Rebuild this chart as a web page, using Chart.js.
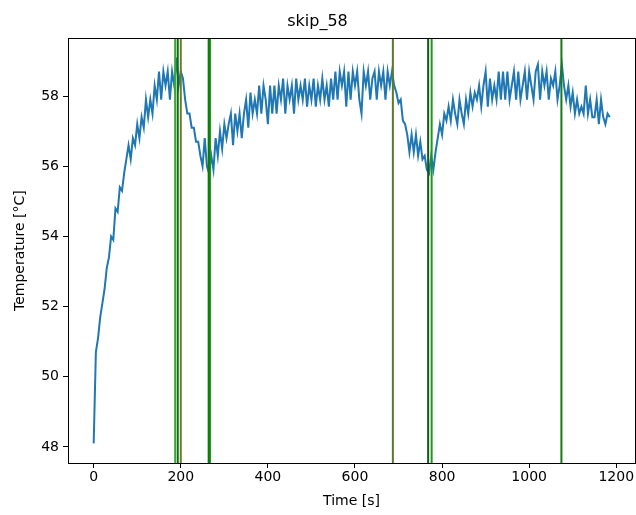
<!DOCTYPE html>
<html>
<head>
<meta charset="utf-8">
<script src="https://cdn.jsdelivr.net/npm/chart.js@4.4.1/dist/chart.umd.min.js"></script>
<style>
  html, body { margin: 0; padding: 0; background: #fff; }
  #wrap { width: 636px; height: 515px; }
</style>
</head>
<body>
<div id="wrap"><canvas id="chart" width="636" height="515"></canvas></div>
<script>
// sampling interval of the temperature log [s]
const sampleStep = 5

// temperature readings [°C], one every sampleStep seconds from t = 0
const temperature = [
  48.1, 50.7, 51.1, 51.7, 52.1, 52.5, 53.1, 53.4, 54.0, 53.9,
  54.8, 54.7, 55.4, 55.3, 55.8, 56.2, 56.6, 56.2, 56.8, 56.6,
  57.2, 56.8, 57.4, 57.1, 57.9, 57.4, 57.9, 57.5, 58.3, 57.9,
  58.7, 57.9, 58.7, 58.3, 58.7, 57.9, 58.7, 58.3, 59.1, 58.3,
  58.7, 58.5, 57.9, 57.5, 57.5, 57.1, 57.1, 56.7, 56.7, 56.3,
  56.0, 56.8, 56.0, 55.8, 56.3, 55.9, 56.8, 56.3, 57.0, 56.5,
  57.2, 56.8, 57.2, 57.5, 56.6, 57.5, 57.0, 57.5, 56.8, 57.5,
  57.9, 57.1, 58.1, 57.5, 57.9, 57.5, 58.3, 57.5, 58.3, 57.9,
  57.2, 58.3, 57.5, 58.3, 57.5, 58.3, 57.9, 58.5, 57.5, 58.3,
  57.9, 58.3, 57.5, 58.5, 57.9, 58.3, 57.9, 58.5, 57.7, 58.3,
  57.9, 58.5, 57.7, 58.3, 57.9, 58.5, 57.9, 58.3, 57.7, 58.5,
  57.9, 58.7, 57.9, 58.7, 58.3, 58.7, 57.7, 58.7, 57.9, 58.7,
  58.3, 58.7, 57.9, 57.5, 58.7, 58.3, 58.7, 57.9, 58.5, 58.7,
  57.9, 58.7, 58.3, 58.7, 57.9, 58.7, 58.3, 58.7, 58.3, 58.1,
  57.8, 57.9, 57.3, 57.2, 56.9, 56.4, 56.9, 56.4, 56.9, 56.3,
  56.7, 56.2, 56.3, 55.9, 55.8, 56.3, 55.9, 56.4, 56.8, 57.2,
  56.9, 57.5, 57.3, 57.7, 57.3, 57.9, 57.5, 57.2, 57.9, 57.5,
  57.2, 57.9, 57.5, 58.1, 57.7, 58.1, 57.9, 58.3, 57.7, 58.3,
  58.7, 57.7, 58.5, 57.9, 58.3, 57.9, 58.7, 57.9, 58.7, 57.9,
  58.7, 57.9, 58.3, 58.7, 57.9, 58.7, 57.9, 58.3, 58.7, 57.9,
  58.7, 58.3, 57.9, 58.7, 58.9, 57.9, 58.7, 58.3, 58.7, 57.9,
  58.5, 58.3, 58.7, 57.9, 58.3, 58.9, 58.3, 57.9, 58.3, 57.7,
  58.1, 57.5, 57.9, 57.5, 57.7, 57.5, 58.3, 57.5, 57.9, 57.4,
  57.4, 57.9, 57.2, 57.9, 57.4, 57.2, 57.5, 57.4
]

// marked events (vertical lines) [s] and their colours
const eventTimes = [187, 193, 200, 264, 267, 687, 768, 776, 1074]
const eventColors = ['#3aa83a', '#0a6e0a', '#6b7a2e', '#0a7a0a', '#189818', '#5b7a2a', '#125a12', '#1c961c', '#157a15']

// axis ticks and limits
const xTicks = [0, 200, 400, 600, 800, 1000, 1200]
const yTicks = [48, 50, 52, 54, 56, 58]
const xLimits = [-59, 1243]
const yLimits = [47.54, 59.65]

const FONT = "'DejaVu Sans', 'Liberation Sans', sans-serif"

// box round the plot like matplotlib spines
const frame = {
  id: 'frame',
  afterDraw(chart) {
    const { ctx, chartArea: a } = chart
    ctx.save()
    ctx.strokeStyle = '#000'
    ctx.lineWidth = 1
    ctx.strokeRect(Math.round(a.left) + 0.5, Math.round(a.top) + 0.5, Math.round(a.right - a.left), Math.round(a.bottom - a.top))
    ctx.restore()
  }
}

let series = temperature.map((v, i) => ({ x: i * sampleStep, y: v }))

let datasets = eventTimes.map((t, i) => ({
  data: [{ x: t, y: yLimits[0] }, { x: t, y: yLimits[1] }],
  borderColor: eventColors[i],
  borderWidth: 2,
  pointRadius: 0,
  order: 0
}))

datasets.push({
  label: 'temperature',
  data: series,
  borderColor: '#1f77b4',
  borderWidth: 2,
  pointRadius: 0,
  tension: 0,
  borderJoinStyle: 'miter',
  order: 1
})

let ctx = document.getElementById('chart').getContext('2d')
new Chart(ctx, {
  type: 'line',
  data: { datasets: datasets },
  options: {
    responsive: false,
    animation: false,
    events: [],
    layout: { padding: { left: 0, right: 1, top: 0, bottom: 0 } },
    plugins: {
      legend: { display: false },
      tooltip: { enabled: false },
      title: {
        display: true,
        text: 'skip_58',
        color: '#000',
        font: { family: FONT, size: 16, weight: 'normal' },
        padding: { top: 12, bottom: 7 }
      }
    },
    scales: {
      x: {
        type: 'linear',
        min: xLimits[0],
        max: xLimits[1],
        afterBuildTicks: s => { s.ticks = xTicks.map(v => ({ value: v })) },
        afterFit: s => { s.height = 52 },
        grid: { display: true, drawOnChartArea: false, drawTicks: true, tickLength: 5, color: '#000' },
        border: { display: true, color: '#000' },
        ticks: { color: '#000', font: { family: FONT, size: 14 }, padding: 1, maxRotation: 0, callback: v => String(v) },
        title: { display: true, text: 'Time [s]', color: '#000', font: { family: FONT, size: 14 }, padding: { top: 2, bottom: 5 } }
      },
      y: {
        type: 'linear',
        min: yLimits[0],
        max: yLimits[1],
        afterBuildTicks: s => { s.ticks = yTicks.map(v => ({ value: v })) },
        afterFit: s => { s.width = 68 },
        grid: { display: true, drawOnChartArea: false, drawTicks: true, tickLength: 5, color: '#000' },
        border: { display: true, color: '#000' },
        ticks: { color: '#000', font: { family: FONT, size: 14 }, padding: 4, callback: v => String(v) },
        title: { display: true, text: 'Temperature [°C]', color: '#000', font: { family: FONT, size: 14 }, padding: { top: 12, bottom: 4 } }
      }
    }
  },
  plugins: [frame]
})
</script>
</body>
</html>
